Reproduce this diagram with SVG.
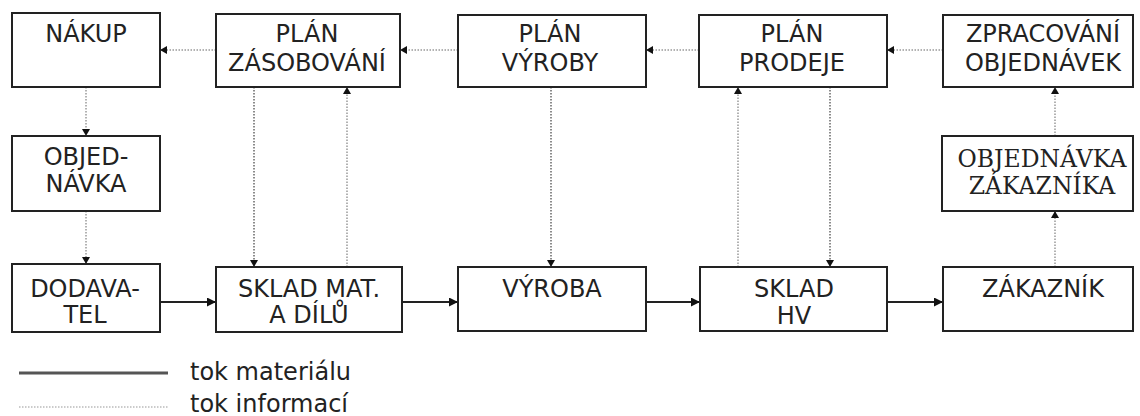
<svg xmlns="http://www.w3.org/2000/svg" width="1140" height="416" viewBox="0 0 1140 416">
  <style>
    .box { fill: #fff; stroke: #222; stroke-width: 2; }
    .t { font-family: "DejaVu Sans", Verdana, sans-serif; font-size: 24px; fill: #222; text-anchor: middle; }
    .ts { font-family: "DejaVu Serif", "Liberation Serif", serif; font-size: 23.5px; fill: #222; text-anchor: middle; }
    .lt { font-family: "DejaVu Sans", Verdana, sans-serif; font-size: 24px; fill: #222; }
    .mat { fill: none; stroke: #222; stroke-width: 2; marker-end: url(#arrM); }
    .info { fill: none; stroke: #999; stroke-width: 1.5; stroke-dasharray: 1.5 1.5; marker-end: url(#arrI); }
    .info.dk { stroke: #666; }
  </style>
  <defs>
    <marker id="arrM" viewBox="0 0 9 9" refX="9" refY="4.5" markerWidth="9" markerHeight="9" markerUnits="userSpaceOnUse" orient="auto">
      <path d="M0,0 L9,4.5 L0,9 z" fill="#111" stroke="none"/>
    </marker>
    <marker id="arrI" viewBox="0 0 7 8" refX="7" refY="4" markerWidth="7" markerHeight="8" markerUnits="userSpaceOnUse" orient="auto">
      <path d="M0,0 L7,4 L0,8 z" fill="#111" stroke="none"/>
    </marker>
  </defs>

  <g id="connectors">
    <path class="mat" d="M160,302 H216"/>
    <path class="mat" d="M402,302 H458"/>
    <path class="mat" d="M646,302 H700"/>
    <path class="mat" d="M887,302 H943"/>
    <path class="info" d="M216,50 H160"/>
    <path class="info" d="M458,50 H400"/>
    <path class="info" d="M699,50 H646"/>
    <path class="info" d="M943,50 H887"/>
    <path class="info" d="M86,87 V136"/>
    <path class="info" d="M86,211 V264"/>
    <path class="info dk" d="M254,87 V267"/>
    <path class="info" d="M347,267 V87"/>
    <path class="info dk" d="M551,87 V267"/>
    <path class="info" d="M738,267 V87"/>
    <path class="info dk" d="M830,87 V267"/>
    <path class="info" d="M1055,267 V211"/>
    <path class="info" d="M1055,136 V87"/>
  </g>

  <g id="nakup">
    <rect class="box" x="12" y="13" width="148" height="74"/>
    <text class="t" x="86" y="42">NÁKUP</text>
  </g>
  <g id="plan-zasobovani">
    <rect class="box" x="216" y="14" width="184" height="73"/>
    <text class="t" x="307" y="42">PLÁN</text>
    <text class="t" x="307" y="71">ZÁSOBOVÁNÍ</text>
  </g>
  <g id="plan-vyroby">
    <rect class="box" x="458" y="15" width="188" height="72"/>
    <text class="t" x="550" y="42">PLÁN</text>
    <text class="t" x="550" y="71">VÝROBY</text>
  </g>
  <g id="plan-prodeje">
    <rect class="box" x="699" y="15" width="188" height="72"/>
    <text class="t" x="792" y="42">PLÁN</text>
    <text class="t" x="792" y="71">PRODEJE</text>
  </g>
  <g id="zpracovani-objednavek">
    <rect class="box" x="943" y="15" width="190" height="72"/>
    <text class="t" x="1043" y="42">ZPRACOVÁNÍ</text>
    <text class="t" x="1043" y="71">OBJEDNÁVEK</text>
  </g>
  <g id="objednavka">
    <rect class="box" x="12" y="136" width="148" height="75"/>
    <text class="t" x="86" y="165">OBJED-</text>
    <text class="t" x="86" y="192">NÁVKA</text>
  </g>
  <g id="objednavka-zakaznika">
    <rect class="box" x="942" y="136" width="191" height="75"/>
    <text class="ts" x="1042" y="167">OBJEDNÁVKA</text>
    <text class="ts" x="1042" y="194">ZÁKAZNÍKA</text>
  </g>
  <g id="dodavatel">
    <rect class="box" x="12" y="264" width="148" height="68"/>
    <text class="t" x="85" y="297">DODAVA-</text>
    <text class="t" x="85" y="323">TEL</text>
  </g>
  <g id="sklad-mat">
    <rect class="box" x="216" y="267" width="186" height="65"/>
    <text class="t" x="309" y="297">SKLAD MAT.</text>
    <text class="t" x="309" y="323">A DÍLŮ</text>
  </g>
  <g id="vyroba">
    <rect class="box" x="458" y="267" width="188" height="64"/>
    <text class="t" x="552" y="297">VÝROBA</text>
  </g>
  <g id="sklad-hv">
    <rect class="box" x="700" y="267" width="187" height="64"/>
    <text class="t" x="794" y="297">SKLAD</text>
    <text class="t" x="794" y="324">HV</text>
  </g>
  <g id="zakaznik">
    <rect class="box" x="943" y="267" width="190" height="64"/>
    <text class="t" x="1043" y="297">ZÁKAZNÍK</text>
  </g>

  <g id="legend">
    <line x1="19" y1="373" x2="168" y2="373" stroke="#555" stroke-width="3"/>
    <text class="lt" x="190" y="380">tok materiálu</text>
    <line x1="19" y1="407" x2="168" y2="407" stroke="#bbb" stroke-width="1.5" stroke-dasharray="1.5 1.5"/>
    <text class="lt" x="190" y="412">tok informací</text>
  </g>
</svg>
